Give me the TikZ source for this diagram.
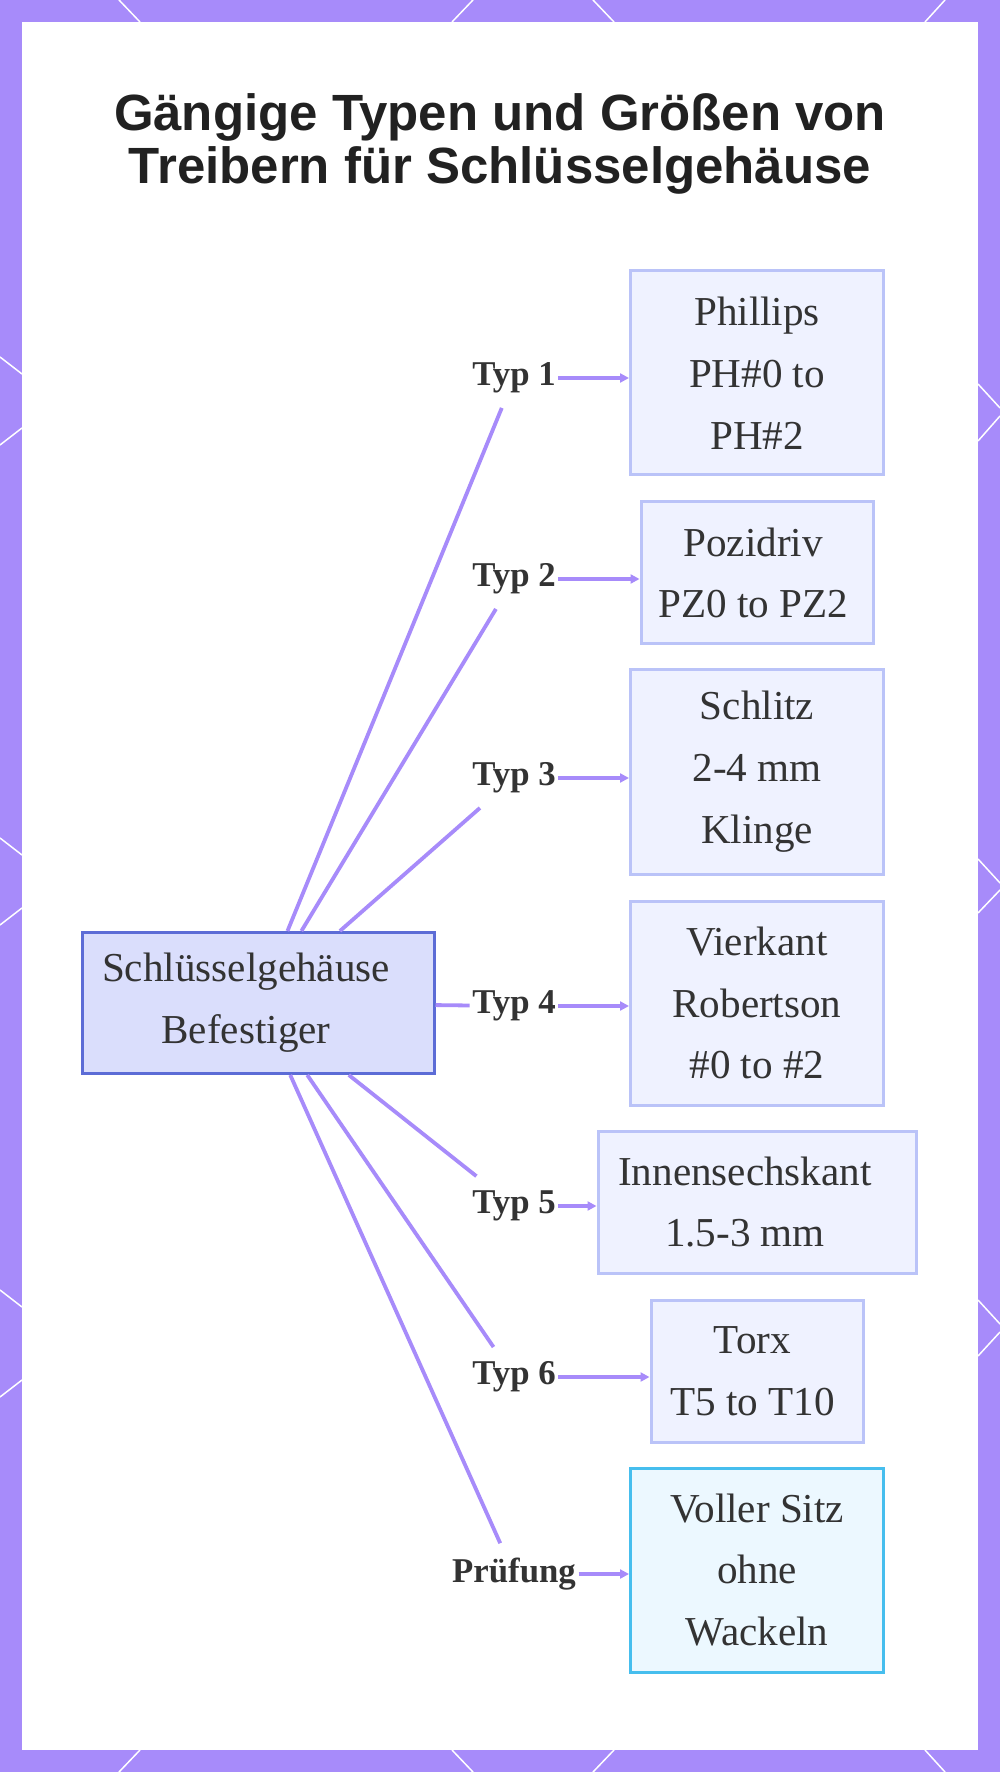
\documentclass[tikz,border=0pt]{standalone}
\usepackage{fontspec}
\setmainfont{Liberation Serif}
\setsansfont{Liberation Sans}
\usepackage{xcolor}
\definecolor{frameviolet}{RGB}{167,139,250}
\definecolor{linkviolet}{RGB}{167,139,250}
\definecolor{hubfill}{RGB}{218,222,252}
\definecolor{hubdraw}{RGB}{92,108,214}
\definecolor{boxfill}{RGB}{239,242,255}
\definecolor{boxdraw}{RGB}{186,195,248}
\definecolor{checkfill}{RGB}{236,248,255}
\definecolor{checkdraw}{RGB}{70,190,238}
\definecolor{textgray}{RGB}{51,51,51}
\usetikzlibrary{arrows.meta}

\begin{document}
\begin{tikzpicture}[x=0.1mm, y=-0.1mm,
    typbox/.style={rectangle, fill=boxfill, draw=boxdraw, line width=0.3mm,
      align=center, text=textgray, inner sep=0pt,
      font=\fontsize{11.7}{17.6}\selectfont},
    typlabel/.style={font=\bfseries\fontsize{9.9}{11}\selectfont, text=textgray,
      inner xsep=0.2mm, inner ysep=1.4mm},
    link/.style={linkviolet, line width=0.38mm},
    linkarrow/.style={link, -{Triangle[length=0.9mm, width=0.9mm]}}]
    % Frame
    \useasboundingbox (0,0) rectangle (1000,1772);
    \fill[frameviolet] (0,0) rectangle (1000,1772);
    \foreach \xa/\ya/\xb/\yb in {119/0/140/22, 473/0/452/22, 593/0/614/22, 945/0/925/22,
        140/1750/119/1772, 452/1750/473/1772, 614/1750/593/1772, 925/1750/945/1772,
        0/357/22/374, 22/428/0/445, 0/838/22/855, 22/908/0/925, 0/1290/22/1307, 22/1380/0/1397,
        978/384/1000/408, 1000/416/978/441, 978/859/1000/883, 1000/890/978/913,
        978/1300/1000/1324, 1000/1332/978/1356}
      \draw[white, line width=0.15mm] (\xa,\ya) -- (\xb,\yb);
    \fill[white] (22,22) rectangle (978,1750);

    % Title
    \node[font=\sffamily\bfseries\fontsize{14.5}{15.1}\selectfont, align=center,
          text=black!87] (title) at (500,144)
          {Gängige Typen und Größen von\\Treibern für Schlüsselgehäuse};

    % Center node
    \node[rectangle, fill=hubfill, draw=hubdraw, line width=0.3mm, align=center,
          text=textgray, minimum width=35.2mm, minimum height=14.1mm,
          font=\fontsize{11.7}{17.6}\selectfont]
          (hub) at (258,1003) {Schlüsselgehäuse\hspace*{2.4mm}\\Befestiger\hspace*{2.4mm}};

    % Driver boxes
    \node[typbox, minimum width=25.3mm, minimum height=20.4mm] (phillips) at (757,373) {Phillips\\PH\#0 to\\PH\#2};
    \node[typbox, minimum width=23.2mm, minimum height=14.2mm] (pozidriv) at (757,573) {Pozidriv\hspace*{0.8mm}\\PZ0 to PZ2\hspace*{0.8mm}};
    \node[typbox, minimum width=25.3mm, minimum height=20.4mm] (schlitz) at (757,772) {Schlitz\\2-4 mm\\Klinge};
    \node[typbox, minimum width=25.3mm, minimum height=20.4mm] (vierkant) at (757,1003) {Vierkant\\Robertson\\\#0 to \#2};
    \node[typbox, minimum width=31.8mm, minimum height=14.2mm] (sechskant) at (757,1202) {Innensechskant\hspace*{2.4mm}\\1.5-3 mm\hspace*{2.4mm}};
    \node[typbox, minimum width=21.2mm, minimum height=14.2mm] (torx) at (757,1371) {Torx\hspace*{0.9mm}\\T5 to T10\hspace*{0.9mm}};
    \node[typbox, fill=checkfill, draw=checkdraw, minimum width=25.3mm, minimum height=20.4mm]
          (sitz) at (757,1570) {Voller Sitz\\ohne\\Wackeln};

    % Edge labels
    \node[typlabel] (typ1) at (514,378) {Typ 1};
    \node[typlabel] (typ2) at (514,579) {Typ 2};
    \node[typlabel] (typ3) at (514,778) {Typ 3};
    \node[typlabel] (typ4) at (514,1006) {Typ 4};
    \node[typlabel] (typ5) at (514,1206) {Typ 5};
    \node[typlabel] (typ6) at (514,1377) {Typ 6};
    \node[typlabel] (pruef) at (514,1574) {Prüfung};

    % Connectors
    \foreach \lab/\target in {typ1/phillips, typ2/pozidriv, typ3/schlitz, typ4/vierkant,
        typ5/sechskant, typ6/torx, pruef/sitz} {
      \draw[link] (hub) -- (\lab);
      \draw[linkarrow] (\lab.east) -- (\lab.east -| \target.west);
    }
\end{tikzpicture}
\end{document}
